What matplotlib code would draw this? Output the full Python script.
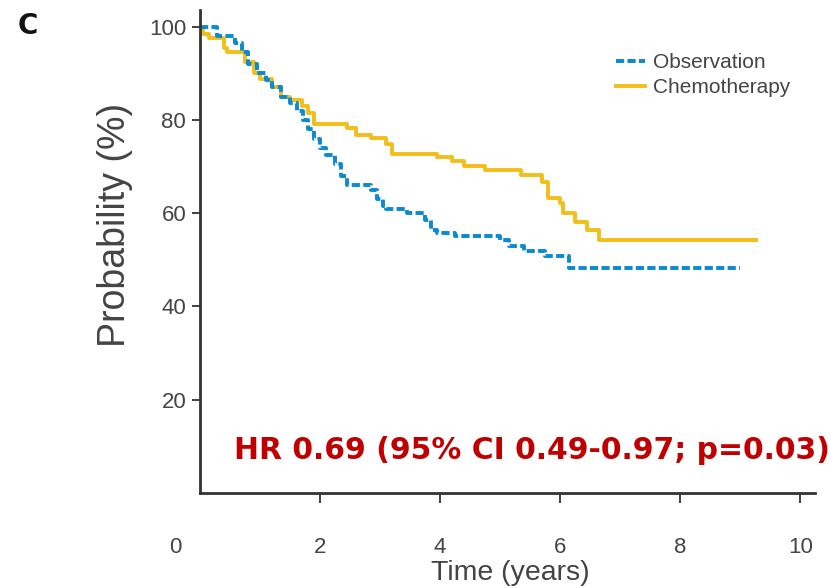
import matplotlib
matplotlib.use("Agg")
import matplotlib.pyplot as plt
from matplotlib.lines import Line2D

# Kaplan-Meier step curves (years, survival %)
obs_t = [0, 0.28, 0.58, 0.7, 0.8, 0.95, 1.1, 1.2, 1.35, 1.5, 1.62, 1.72, 1.8, 1.9,
         2.0, 2.1, 2.25, 2.35, 2.45, 2.85, 2.95, 3.05, 3.1, 3.45, 3.75, 3.85, 3.95,
         4.25, 5.0, 5.15, 5.4, 5.75, 6.15, 9.0]
obs_p = [100, 98, 96.5, 94.5, 92, 90, 88.5, 87, 85, 83.6, 82, 80, 78, 76,
         74, 72.5, 70.5, 68, 66, 65, 63, 61.5, 60.9, 60, 58.5, 56.5, 55.7,
         55.1, 54.2, 52.9, 52, 50.9, 48.2, 48.2]

chemo_t = [0, 0.05, 0.15, 0.4, 0.45, 0.75, 0.9, 1.0, 1.2, 1.35, 1.5, 1.7, 1.8, 1.9,
           2.45, 2.6, 2.85, 3.1, 3.2, 3.95, 4.2, 4.4, 4.75, 5.35, 5.7, 5.8, 6.0,
           6.05, 6.25, 6.45, 6.65, 9.3]
chemo_p = [99.7, 98.5, 97.7, 95.5, 94.5, 92.5, 90, 88.8, 87, 85, 84.2, 83, 81.5, 79.2,
           78.2, 76.7, 76.2, 74.8, 72.8, 72, 71.2, 70.1, 69.2, 68.1, 66.6, 63.2, 62.2,
           60, 58.1, 56.4, 54.2, 54.2]

x_ticks = [2, 4, 6, 8, 10]
y_ticks = [20, 40, 60, 80, 100]

blue = "#0a8ad0"
gold = "#f2be1a"
grey = "#444444"
sans = ["Liberation Sans", "DejaVu Sans"]

fig = plt.figure(figsize=(8.31, 5.88), dpi=100)
ax = fig.add_axes([0.2407, 0.1616, 0.7403, 0.8214])

ax.step(chemo_t, chemo_p, where="post", color=gold, lw=2.8, solid_capstyle="butt")
ax.step(obs_t, obs_p, where="post", color=blue, lw=2.8, dashes=(2.1, 0.85))

ax.set_xlim(0, 10.25)
ax.set_ylim(0, 103.6)
ax.set_xticks(x_ticks)
ax.set_yticks(y_ticks)

for side in ("top", "right"):
    ax.spines[side].set_visible(False)
for side in ("left", "bottom"):
    ax.spines[side].set_color("#333333")
    ax.spines[side].set_linewidth(2)

ax.tick_params(axis="x", length=7, width=1.3, color="#333333", pad=25,
               labelsize=16, labelcolor=grey)
ax.tick_params(axis="y", length=6, width=1.3, color="#333333", pad=4,
               labelsize=16, labelcolor=grey)
for lab in ax.get_xticklabels() + ax.get_yticklabels():
    lab.set_family(sans)

# the origin label sits left of the axis
ax.text(-0.42, -0.112, "0", transform=ax.get_xaxis_transform(), ha="center",
        va="center", fontsize=16, color=grey, family=sans)

ax.set_xlabel("Time (years)", fontsize=20.5, color=grey, family=sans, va="bottom")
ax.xaxis.set_label_coords(0.504, -0.193)
ax.set_ylabel("Probability (%)", fontsize=27, color=grey, family=sans, va="center")
ax.yaxis.set_label_coords(-0.138, 0.555)

handles = [Line2D([], [], color=blue, lw=2.8, dashes=(2.1, 0.85)),
           Line2D([], [], color=gold, lw=2.8)]
leg = ax.legend(handles, ["Observation", "Chemotherapy"], loc="upper left",
                bbox_to_anchor=(0.645, 0.95), frameon=False,
                handlelength=1.4, handletextpad=0.4, labelspacing=0.3,
                prop={"family": sans, "size": 15})
for t in leg.get_texts():
    t.set_color(grey)

ax.text(10.5, 9.2, "HR 0.69 (95% CI 0.49-0.97; p=0.03)", ha="right", va="center",
        fontsize=21.5, fontweight="bold", color="#c00000", clip_on=False)

fig.text(0.034, 0.955, "C", fontsize=20, fontweight="bold", color="#111111",
         ha="center", va="center")

fig.savefig("out.png", dpi=100)
